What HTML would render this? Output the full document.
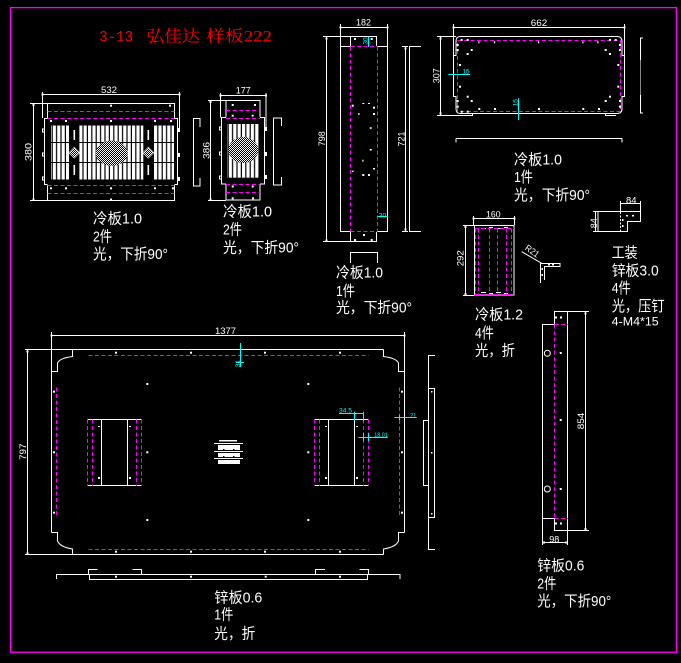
<!DOCTYPE html>
<html><head><meta charset="utf-8"><style>html,body{margin:0;padding:0;background:#000;}svg{display:block}</style></head><body>
<svg width="681" height="663" viewBox="0 0 681 663" xmlns="http://www.w3.org/2000/svg">
<defs>
<pattern id="sl" width="4.4" height="30" patternUnits="userSpaceOnUse"><rect width="3.2" height="30" fill="#fff"/></pattern>
<pattern id="ck" width="2" height="2" patternUnits="userSpaceOnUse"><rect width="1" height="1" fill="#fff"/><rect x="1" y="1" width="1" height="1" fill="#fff"/></pattern>
</defs>
<rect width="681" height="663" fill="#000"/>
<rect x="10.6" y="7.6" width="665.8" height="644.6" fill="none" stroke="#f0f" stroke-width="1.3"/>

<!-- Title -->
<g fill="#f00" font-family="'Liberation Mono','Noto Sans CJK SC',monospace" font-size="16">
<text x="99.3" y="41.5" textLength="33.7" lengthAdjust="spacingAndGlyphs">3-13</text>
<text x="146" y="41.5" textLength="54" lengthAdjust="spacingAndGlyphs" font-family="'Noto Serif CJK SC','Noto Sans CJK SC',serif">弘佳达</text>
<text x="206" y="41.5" textLength="66" lengthAdjust="spacingAndGlyphs" font-family="'Liberation Serif','Noto Serif CJK SC',serif">样板222</text>
</g>

<!-- ============ A: 532 panel ============ -->
<g>
<rect x="51" y="125.5" width="18" height="54" fill="url(#sl)"/>
<rect x="79.3" y="125.5" width="64" height="54" fill="url(#sl)"/>
<rect x="154" y="125.5" width="20" height="54" fill="url(#sl)"/>
<path d="M50 142.5H70 M78 142.5H145 M153 142.5H175 M50 162.5H70 M78 162.5H145 M153 162.5H175" stroke="#000" stroke-width="1"/>
<ellipse cx="111.7" cy="153.3" rx="16" ry="12.5" fill="#000"/>
<ellipse cx="111.7" cy="153.3" rx="16" ry="12.5" fill="url(#ck)"/>
<polygon points="74.3,147.2 79.8,152.7 74.3,158.2 68.8,152.7" fill="url(#ck)" stroke="#fff" stroke-width="0.6"/>
<polygon points="148.3,147.2 153.8,152.7 148.3,158.2 142.8,152.7" fill="url(#ck)" stroke="#fff" stroke-width="0.6"/>
<g fill="#fff"><rect x="73.5" y="130" width="1.6" height="10"/><rect x="73.5" y="165" width="1.6" height="10"/><rect x="147.5" y="130" width="1.6" height="10"/><rect x="147.5" y="165" width="1.6" height="10"/></g>
</g>
<g fill="none" stroke="#fff" stroke-width="1">
<path d="M47.5 103.5H174.5V118.5 M47.5 103.5V118.5 M44.5 118.5H177.5V184.5H44.5Z M47.5 184.5V200.5H174.5V184.5"/>
<path d="M30 103.5H47.5 M30 200.5H47.5 M33.5 103.5V200.5 M42.5 92V118 M179.5 92V128 M42.5 94.5H179.5"/>
<path d="M200 127V118.5H193.5V186H200V178"/>
<path d="M42.5 129h2v3h-2z M42.5 153h2v3h-2z M42.5 177h2v3h-2z"/>
</g>
<g fill="#fff"><rect x="177.5" y="128" width="2.5" height="4"/><rect x="177.5" y="153" width="2.5" height="4"/><rect x="177.5" y="177" width="2.5" height="4"/></g>
<path d="M47.5 118.5H174.5 M47.5 184.5H174.5" stroke="#000" stroke-width="1.2"/>
<path d="M47.5 111.5H174.5 M47.5 118.5H174.5 M47.5 185.5H174.5 M47.5 193.5H174.5" stroke="#f0f" stroke-width="1" stroke-dasharray="4 2.5" fill="none"/>
<g fill="#fff">
<rect x="110" y="104.7" width="2" height="2"/><rect x="169" y="104.7" width="2" height="2"/>
<rect x="50" y="120" width="2" height="2"/><rect x="65" y="120" width="2" height="2"/><rect x="110" y="120" width="2" height="2"/><rect x="154" y="120" width="2" height="2"/><rect x="170" y="120" width="2" height="2"/>
<rect x="50" y="187.3" width="2" height="2"/><rect x="65" y="187.3" width="2" height="2"/><rect x="110" y="187.3" width="2" height="2"/><rect x="154" y="187.3" width="2" height="2"/><rect x="172" y="187.3" width="2" height="2"/>
<rect x="110" y="198.5" width="2" height="2"/>
<rect x="41.5" y="93.5" width="2" height="2"/><rect x="178.5" y="93.5" width="2" height="2"/><rect x="32.5" y="104" width="2" height="2"/><rect x="32.5" y="198.5" width="2" height="2"/>
</g>

<!-- ============ B: 177 panel ============ -->
<rect x="227.3" y="124" width="32" height="53.7" fill="url(#sl)"/>
<ellipse cx="243.3" cy="150" rx="15" ry="13" fill="#000"/>
<ellipse cx="243.3" cy="150" rx="15" ry="13" fill="url(#ck)"/>
<g fill="none" stroke="#fff" stroke-width="1">
<path d="M226 100.5H260V117.5 M226 100.5V117.5 M221.5 117.5H264.5V184H221.5Z M226 184V200H260V184"/>
<path d="M208 100.5H226 M208 200.5H226 M210.5 100.5V200.5 M220.5 93V117.5 M266 93V128 M220.5 95.5H266"/>
<path d="M281.5 126V118H273.5V185H281.5V177"/>
<path d="M219.5 127h2v3h-2z M219.5 152h2v3h-2z M219.5 176h2v3h-2z"/>
</g>
<g fill="#fff"><rect x="264.5" y="127" width="2.5" height="4"/><rect x="264.5" y="152" width="2.5" height="4"/><rect x="264.5" y="175" width="2.5" height="4"/>
<rect x="231.7" y="104" width="2" height="2"/><rect x="254" y="104" width="2" height="2"/><rect x="231.7" y="114.7" width="2" height="2"/><rect x="251.7" y="114.7" width="2" height="2"/>
<rect x="231.7" y="185.5" width="2" height="2"/><rect x="251.7" y="185.5" width="2" height="2"/><rect x="231.7" y="197.3" width="2" height="2"/><rect x="252" y="197.3" width="2" height="2"/>
<rect x="219.5" y="94.5" width="2" height="2"/><rect x="265" y="94.5" width="2" height="2"/><rect x="209.5" y="101" width="2" height="2"/><rect x="209.5" y="198.5" width="2" height="2"/></g>
<path d="M226 117.5H260 M226 184H260" stroke="#000" stroke-width="1.2"/>
<path d="M226 110.5H260 M226 118.5H260 M226 184.5H260 M226 192.5H260" stroke="#f0f" stroke-dasharray="4 2.5" fill="none"/>

<!-- ============ C: 182 panel ============ -->
<g fill="none" stroke="#fff" stroke-width="1">
<path d="M350.5 36.5H376.5V46.5 M350.5 36.5V46.5 M340.5 46.5H387.5V231.5H340.5Z M350.5 231.5V241.5H376.5V231.5"/>
<path d="M323 36.5H350.5 M323 241.5H350.5 M326.5 36.5V241.5 M340.5 24V46.5 M387.5 24V46.5 M340.5 27.5H387.5 M402 46.5H408 M402 231.5H408 M405.5 46.5V231.5"/>
<path d="M421 46.5H409.5V231.5H421"/>
<path d="M350.5 263V252.5H377.5V263"/>
</g>
<path d="M350.5 46.5H377.5 M350.5 231.5H377.5" stroke="#000" stroke-width="1.2"/>
<path d="M350.5 46.5V231.5 M377.5 46.5V231.5 M350.5 46.5H377.5 M350.5 231.5H377.5" stroke="#f0f" stroke-dasharray="4 2.5" fill="none"/>
<g fill="#fff">
<rect x="354" y="38" width="2" height="2"/><rect x="370.7" y="38" width="2" height="2"/>
<rect x="363" y="234" width="2" height="2"/><rect x="354" y="239" width="2" height="2"/><rect x="370.7" y="239" width="2" height="2"/>
<rect x="351.7" y="104.7" width="2" height="2"/><rect x="373" y="106.7" width="2" height="2"/><rect x="373" y="113" width="2" height="2"/><rect x="358.3" y="113" width="1.2" height="2"/>
<rect x="369.7" y="127.3" width="2" height="1.5"/><rect x="369.7" y="149" width="2" height="1.5"/><rect x="362.3" y="159.7" width="1.2" height="2"/>
<rect x="373" y="168" width="2" height="1.5"/><rect x="351.7" y="170.7" width="2" height="1.2"/><rect x="362.3" y="174" width="2" height="2"/><rect x="368" y="174" width="2" height="2"/>
<rect x="362.3" y="103" width="2" height="1"/><rect x="368" y="103" width="2" height="1"/>
<rect x="339.5" y="26.5" width="2" height="2"/><rect x="386.5" y="26.5" width="2" height="2"/>
<rect x="325.5" y="37.5" width="2" height="2"/><rect x="325.5" y="239.5" width="2" height="2"/>
<rect x="404.5" y="47.5" width="2" height="2"/><rect x="404.5" y="228.5" width="2" height="2"/>
</g>
<g stroke="#0ff" fill="none"><path d="M368.5 36.5V47 M377.5 216.5H388"/></g>

<!-- ============ D: 662 panel ============ -->
<g fill="none" stroke="#fff" stroke-width="1">
<path d="M460 36.5H617 Q622 36.5 622 41.5V55.5H624.5V96.5H622V108.5Q622 113.5 617 113.5H460Q456 113.5 456 108.5V96.5H453.5V55.5H456V41.5Q456 36.5 460 36.5Z"/>
<path d="M437 36.5H456 M437 115.5H472.5V113.5 M605.5 113.5V115.5H616"/>
<path d="M440.5 36.5V115.5 M453.5 24V55 M624.5 24V55 M453.5 27.5H624.5"/>
<path d="M643 38H640.5V113H643"/>
<path d="M456 138.5H622 M456 138.5V142.5 M622 138.5V142.5"/>
</g>
<path d="M640.5 60V95" stroke="#888"/>
<rect x="457.5" y="40.5" width="163" height="71" fill="none" stroke="#f0f" stroke-dasharray="4 2.5"/>
<g fill="#fff">
<rect x="460.7" y="39" width="2" height="2"/><rect x="466.7" y="39" width="2" height="2"/><rect x="456.7" y="44" width="2" height="2"/><rect x="456.7" y="49" width="2" height="2"/>
<rect x="470.7" y="49" width="2" height="2"/><rect x="466.7" y="53" width="2" height="2"/><rect x="459" y="64" width="2" height="2"/><rect x="459" y="85.7" width="2" height="2"/>
<rect x="466.7" y="95.7" width="2" height="2"/><rect x="470.7" y="100" width="2" height="2"/><rect x="456.7" y="100" width="2" height="2"/><rect x="456.7" y="105.7" width="2" height="2"/>
<rect x="460.7" y="110.7" width="2" height="2"/><rect x="466.7" y="110.7" width="2" height="2"/>
<rect x="478.3" y="108" width="2" height="2"/><rect x="494" y="108" width="2" height="2"/><rect x="538" y="108" width="2" height="2"/><rect x="582.3" y="108" width="2" height="2"/><rect x="598" y="108" width="2" height="2"/>
<rect x="604.7" y="100" width="2" height="2"/><rect x="609" y="95.7" width="2" height="2"/><rect x="619" y="100" width="2" height="2"/><rect x="619" y="105.7" width="2" height="2"/>
<rect x="617.3" y="85.7" width="2" height="2"/><rect x="617.3" y="64" width="2" height="2"/><rect x="609" y="53" width="2" height="2"/><rect x="604.7" y="49" width="2" height="2"/>
<rect x="619" y="44" width="2" height="2"/><rect x="619" y="49" width="2" height="2"/><rect x="609" y="39" width="2" height="2"/><rect x="614.7" y="39" width="2" height="2"/>
<rect x="478.3" y="41.3" width="1.2" height="2"/><rect x="494" y="41.3" width="1.2" height="2"/><rect x="538" y="41.3" width="1.2" height="2"/><rect x="582.3" y="41.3" width="1.2" height="2"/><rect x="597.3" y="41.3" width="1.2" height="2"/>
<rect x="452.5" y="26.5" width="2" height="2"/><rect x="623.5" y="26.5" width="2" height="2"/><rect x="439.5" y="37.5" width="2" height="2"/><rect x="439.5" y="112.5" width="2" height="2"/>
</g>
<g stroke="#0ff" fill="none"><path d="M448.3 74.5H470 M518.5 98.3V120"/></g>

<!-- ============ E: 160 panel ============ -->
<g fill="none" stroke="#fff" stroke-width="1">
<rect x="474.5" y="225.5" width="39.5" height="69.5"/>
<path d="M473.5 216V225 M514.5 216V225 M473.5 218.5H514.5"/>
<path d="M463 225.5H474 M463 295.5H474 M465.5 225.5V295.5"/>
<path d="M481 228.5h5 M489 227.5h4 M496 228.5h5 M504 227.5h4 M481 292.5h5 M489 293.5h4 M496 292.5h5 M504 293.5h4"/>
<path d="M521.7 251.7L541.7 263.3"/>
<path d="M540.5 283V263.5H560V266.5H544.5V280"/>
</g>
<path d="M475.5 228.5V295 M478.5 228.5V295 M489.5 228.5V295 M497.5 228.5V295 M506.5 228.5V295 M511.5 228.5V295 M474.5 228.5H514 M474.5 294.5H514" stroke="#f0f" stroke-dasharray="4 2.5" fill="none"/>
<g fill="#fff"><rect x="548" y="264" width="2" height="1.5"/><rect x="552" y="264" width="2" height="1.5"/><rect x="541.5" y="268" width="1.5" height="2"/><rect x="541.5" y="274" width="1.5" height="2"/>
<rect x="472.5" y="217.5" width="2" height="2"/><rect x="513.5" y="217.5" width="2" height="2"/><rect x="464.5" y="226" width="2" height="2"/><rect x="464.5" y="293" width="2" height="2"/></g>

<!-- ============ F: 84 fixture ============ -->
<g fill="none" stroke="#fff" stroke-width="1">
<path d="M598 211.5H640.5V221.5H627.5V231.5H598Z"/>
<path d="M620.5 201V211.5 M640.5 201V211.5 M620.5 203.5H640.5"/>
<path d="M595.5 211.5V231.5 M593 211.5H598 M593 231.5H598"/>
</g>
<path d="M620.5 212V231" stroke="#fff" stroke-dasharray="2 1.5"/>
<g fill="#fff"><rect x="626" y="215" width="2" height="1.5"/><rect x="632" y="215" width="2" height="1.5"/><rect x="622" y="219" width="1.5" height="2"/><rect x="622" y="225" width="1.5" height="2"/></g>

<!-- ============ G: 854 panel ============ -->
<g fill="none" stroke="#fff" stroke-width="1">
<path d="M554.5 324.5V311.5H567.5V530.5H554.5V518.5H542.5V324.5H554.5"/>
<path d="M567.5 311.5H589 M567.5 530.5H589 M585.5 311.5V530.5 M542.5 518.5V545 M567.5 530.5V545 M542.5 542.5H567.5"/>
<circle cx="547.3" cy="353.3" r="3"/><circle cx="547.3" cy="489" r="3"/>
</g>
<path d="M554.5 324.5H567.5 M554.5 518.5H567.5" stroke="#000" stroke-width="1.2"/>
<path d="M554.5 324.5V518.5 M554.5 324.5H567.5 M554.5 518.5H567.5" stroke="#f0f" stroke-dasharray="4 2.5" fill="none"/>
<g fill="#fff"><rect x="559.7" y="352" width="2" height="2"/><rect x="559.7" y="419" width="2" height="2"/><rect x="559.7" y="488" width="2" height="2"/>
<rect x="555" y="316.5" width="2" height="2"/><rect x="560" y="316.5" width="2" height="2"/><rect x="555" y="522.5" width="2" height="2"/><rect x="560" y="522.5" width="2" height="2"/>
<rect x="584.5" y="312.5" width="2" height="2"/><rect x="584.5" y="528" width="2" height="2"/><rect x="543" y="541.5" width="2" height="2"/><rect x="565" y="541.5" width="2" height="2"/></g>

<!-- ============ H: big 1377 panel ============ -->
<g fill="none" stroke="#fff" stroke-width="1">
<path d="M25 349.5H383.5 M383.5 349.5V356.5Q396 358 398.5 363V371.5H404.5 M404.5 332V532.5 M404.5 532.5H398.5V541Q396 547 383.5 549V554.5 M25 554.5H383.5 M72.5 554.5V549Q60 547 57.5 541V532.5H51.5 M51.5 332V532.5 M51.5 371.5H57.5V363Q60 358 72.5 356.5V349.5"/>
<path d="M51.5 335.5H404.5 M27.5 349.5V554.5"/>
<path d="M87.5 419.5H141.5 M87.5 485.5H141.5 M101.5 419.5V485.5 M127.5 419.5V485.5"/>
<path d="M314.5 419.5H368.5 M314.5 485.5H368.5 M328.5 419.5V485.5 M354.5 419.5V485.5"/>
<path d="M435 355.5H428.5V549.5H435 M428.5 388.5H434.5V517.5H428.5 M428.5 420.5H423.5V485.5H428.5"/>
<path d="M56.5 579V574.5H400V579 M89.5 574.5V579.5H367.5V574.5 M88.5 574.5V569.5H97.5 M132.5 569.5H141.5V574.5 M315.5 574.5V569.5H325 M359.5 569.5H368.5V574.5"/>
</g>
<path d="M88.5 355.5H368.5 M88.5 549.5H368.5 M56.5 387.5V517.5 M399.5 387.5V517.5 M87.5 419.5V486 M92.5 419.5V486 M136.5 419.5V486 M141.5 419.5V486 M314.5 419.5V486 M319.5 419.5V486 M363.5 419.5V486 M368.5 419.5V486" stroke="#f0f" stroke-dasharray="4 2.5" fill="none"/>
<g fill="#fff">
<rect x="219" y="440" width="18" height="1.5"/>
<rect x="214" y="443" width="29" height="1"/>
<rect x="218" y="445" width="22" height="5"/>
<rect x="214" y="451" width="29" height="1"/>
<rect x="218" y="453" width="22" height="4"/>
<rect x="214" y="458" width="29" height="1"/>
<rect x="218" y="460" width="22" height="4"/>
</g>
<g fill="#000"><rect x="223" y="449" width="1.5" height="1.5"/><rect x="233" y="449" width="1.5" height="1.5"/><rect x="223" y="456" width="1.5" height="1.5"/><rect x="233" y="456" width="1.5" height="1.5"/></g>
<g fill="#fff">
<rect x="115" y="351.7" width="2" height="2"/><rect x="190" y="351.7" width="2" height="2"/><rect x="264" y="351.7" width="2" height="2"/><rect x="339" y="351.7" width="2" height="2"/>
<rect x="115" y="550.7" width="2" height="2"/><rect x="190" y="550.7" width="2" height="2"/><rect x="264" y="550.7" width="2" height="2"/><rect x="339" y="550.7" width="2" height="2"/>
<rect x="53" y="390.7" width="2" height="2"/><rect x="53" y="451.3" width="2" height="2"/><rect x="53" y="511.7" width="2" height="2"/>
<rect x="401" y="390.7" width="2" height="2"/><rect x="401" y="451.3" width="2" height="2"/><rect x="401" y="511.7" width="2" height="2"/>
<rect x="146.3" y="383" width="2" height="2"/><rect x="307.3" y="383" width="2" height="2"/><rect x="146.3" y="451.3" width="2" height="2"/><rect x="307.3" y="451.3" width="2" height="2"/><rect x="146.3" y="519" width="2" height="2"/><rect x="307.3" y="519" width="2" height="2"/>
<rect x="98" y="426" width="2" height="1"/><rect x="129" y="426" width="2" height="1"/><rect x="98" y="477" width="2" height="2"/><rect x="129" y="477" width="2" height="2"/>
<rect x="325" y="426" width="2" height="1"/><rect x="356" y="426" width="2" height="1"/><rect x="325" y="477" width="2" height="2"/><rect x="356" y="477" width="2" height="2"/>
<rect x="115" y="575.7" width="2" height="2"/><rect x="190" y="575.7" width="2" height="2"/><rect x="264.7" y="575.7" width="2" height="2"/><rect x="339" y="575.7" width="2" height="2"/>
<rect x="431" y="391" width="1.5" height="1.5"/><rect x="431" y="452" width="1.5" height="1.5"/><rect x="431" y="513" width="1.5" height="1.5"/>
<rect x="50.5" y="334.5" width="2" height="2"/><rect x="403.5" y="334.5" width="2" height="2"/><rect x="26.5" y="350.5" width="2" height="2"/><rect x="26.5" y="552.5" width="2" height="2"/>
</g>
<g stroke="#0ff" fill="none">
<path d="M240.5 343V367 M236 362.5H244"/>
<path d="M339 413.5H363.5 M354.5 411.7V421 M363.5 411.7V421"/>
<path d="M358.3 437.5H387.7 M363.5 433V441 M368.5 433V441"/>
<path d="M394.3 417.5H416.7 M399.5 415V420"/>
</g>

<!-- ============ Dimension texts ============ -->
<g fill="#fff" font-family="'Liberation Sans',sans-serif" font-size="9" text-anchor="middle">
<text x="109" y="93" textLength="16" lengthAdjust="spacingAndGlyphs">532</text>
<text transform="translate(31.5,152) rotate(-90)" textLength="18" lengthAdjust="spacingAndGlyphs">380</text>
<text x="243.3" y="93.5" textLength="15" lengthAdjust="spacingAndGlyphs">177</text>
<text transform="translate(209.5,150.5) rotate(-90)" textLength="17" lengthAdjust="spacingAndGlyphs">386</text>
<text x="363.5" y="25.5" textLength="15" lengthAdjust="spacingAndGlyphs">182</text>
<text transform="translate(325,138.8) rotate(-90)" textLength="15" lengthAdjust="spacingAndGlyphs">798</text>
<text transform="translate(404.3,139) rotate(-90)" textLength="15" lengthAdjust="spacingAndGlyphs">721</text>
<text x="539" y="26" textLength="16.5" lengthAdjust="spacingAndGlyphs">662</text>
<text transform="translate(439.3,75.8) rotate(-90)" textLength="15" lengthAdjust="spacingAndGlyphs">307</text>
<text x="493.3" y="217.7" textLength="14.5" lengthAdjust="spacingAndGlyphs">160</text>
<text transform="translate(463.3,258.3) rotate(-90)" textLength="16" lengthAdjust="spacingAndGlyphs">292</text>
<text x="631.3" y="203.3" textLength="10.5" lengthAdjust="spacingAndGlyphs">84</text>
<text transform="translate(596.8,223.3) rotate(-90)" textLength="10" lengthAdjust="spacingAndGlyphs">84</text>
<text transform="translate(530.5,253.5) rotate(35)" textLength="15" lengthAdjust="spacingAndGlyphs">R21</text>
<text transform="translate(584,421) rotate(-90)" textLength="16.5" lengthAdjust="spacingAndGlyphs">854</text>
<text x="554.3" y="542.7" textLength="10" lengthAdjust="spacingAndGlyphs">98</text>
<text x="225.5" y="334" textLength="21" lengthAdjust="spacingAndGlyphs">1377</text>
<text transform="translate(26,451.7) rotate(-90)" textLength="16.5" lengthAdjust="spacingAndGlyphs">797</text>
</g>
<g fill="#0ff" font-family="'Liberation Sans',sans-serif" font-size="6.5" text-anchor="middle">
<text transform="translate(367.5,41) rotate(-90)">30</text>
<text x="382.5" y="217.5">30</text>
<text x="466" y="73.5">15</text>
<text transform="translate(517.5,102.7) rotate(-90)">15</text>
<text transform="translate(240,363.7) rotate(-90)">31</text>
<text x="345.5" y="412.5" textLength="13" lengthAdjust="spacingAndGlyphs">34.5</text>
<text x="381" y="437" textLength="13.5" lengthAdjust="spacingAndGlyphs">18.01</text>
<text x="413.3" y="417.5" textLength="6" lengthAdjust="spacingAndGlyphs">21</text>
</g>

<!-- ============ Labels ============ -->
<g fill="#fff" font-family="'Liberation Sans','Noto Sans CJK SC',sans-serif" font-size="15">
<text x="93" y="223.5" textLength="49" lengthAdjust="spacingAndGlyphs">冷板1.0</text>
<text x="93" y="241.5" textLength="19" lengthAdjust="spacingAndGlyphs">2件</text>
<text x="93" y="259" textLength="75" lengthAdjust="spacingAndGlyphs">光，下折90°</text>

<text x="223" y="216.5" textLength="49" lengthAdjust="spacingAndGlyphs">冷板1.0</text>
<text x="223" y="234.5" textLength="19" lengthAdjust="spacingAndGlyphs">2件</text>
<text x="223" y="252.5" textLength="76" lengthAdjust="spacingAndGlyphs">光，下折90°</text>

<text x="336" y="277.5" textLength="47" lengthAdjust="spacingAndGlyphs">冷板1.0</text>
<text x="336" y="296" textLength="19" lengthAdjust="spacingAndGlyphs">1件</text>
<text x="336" y="312.5" textLength="76" lengthAdjust="spacingAndGlyphs">光，下折90°</text>

<text x="514" y="164.5" textLength="48" lengthAdjust="spacingAndGlyphs">冷板1.0</text>
<text x="514" y="182" textLength="19" lengthAdjust="spacingAndGlyphs">1件</text>
<text x="514" y="200" textLength="76" lengthAdjust="spacingAndGlyphs">光，下折90°</text>

<text x="475" y="319.5" textLength="48" lengthAdjust="spacingAndGlyphs">冷板1.2</text>
<text x="475" y="338" textLength="19" lengthAdjust="spacingAndGlyphs">4件</text>
<text x="475" y="355.5" textLength="40" lengthAdjust="spacingAndGlyphs">光，折</text>

<text x="611.7" y="257.5" textLength="26" lengthAdjust="spacingAndGlyphs">工装</text>
<text x="611.7" y="275.5" textLength="47" lengthAdjust="spacingAndGlyphs">锌板3.0</text>
<text x="611.7" y="293" textLength="19" lengthAdjust="spacingAndGlyphs">4件</text>
<text x="611.7" y="311" textLength="53" lengthAdjust="spacingAndGlyphs">光，压钉</text>
<text x="611.7" y="325.5" textLength="47" lengthAdjust="spacingAndGlyphs" font-size="12">4-M4*15</text>

<text x="537.3" y="570.5" textLength="47" lengthAdjust="spacingAndGlyphs">锌板0.6</text>
<text x="537.3" y="588.5" textLength="19" lengthAdjust="spacingAndGlyphs">2件</text>
<text x="537.3" y="606" textLength="74" lengthAdjust="spacingAndGlyphs">光，下折90°</text>

<text x="214.3" y="602.5" textLength="48" lengthAdjust="spacingAndGlyphs">锌板0.6</text>
<text x="214.3" y="619.5" textLength="19" lengthAdjust="spacingAndGlyphs">1件</text>
<text x="214.3" y="638.5" textLength="41" lengthAdjust="spacingAndGlyphs">光，折</text>
</g>
</svg>
</body></html>
